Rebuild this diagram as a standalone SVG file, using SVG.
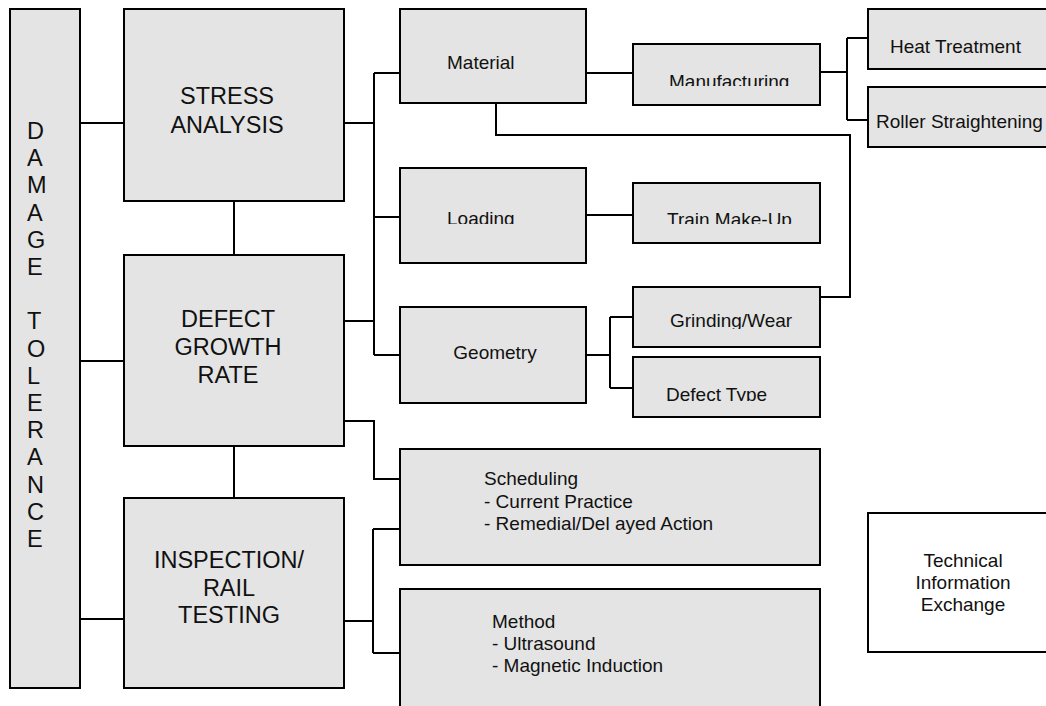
<svg xmlns="http://www.w3.org/2000/svg" width="1046" height="706" viewBox="0 0 1046 706">
  <style>
    .box { fill: #e4e4e4; stroke: #000; stroke-width: 2; }
    .wbox { fill: #fff; stroke: #000; stroke-width: 2; }
    .conn { fill: none; stroke: #000; stroke-width: 2; }
    .big { font-family: "Liberation Sans", Arial, sans-serif; font-size: 23.5px; fill: #111; }
    .sm { font-family: "Liberation Sans", Arial, sans-serif; font-size: 19px; fill: #111; }
    .c { text-anchor: middle; }
  </style>
  <defs>
    <clipPath id="clipManu"><rect x="633" y="44" width="187" height="42"/></clipPath>
    <clipPath id="clipLoad"><rect x="400" y="168" width="186" height="56"/></clipPath>
    <clipPath id="clipTrain"><rect x="633" y="183" width="187" height="41"/></clipPath>
    <clipPath id="clipRoller"><rect x="868" y="87" width="200" height="44"/></clipPath>
    <clipPath id="clipGrind"><rect x="633" y="287" width="187" height="42"/></clipPath>
    <clipPath id="clipDType"><rect x="633" y="357" width="187" height="44"/></clipPath>
  </defs>
  <rect width="1046" height="706" fill="#fff"/>

  <g id="connectors">
    <path class="conn" d="M80,123 H124"/>
    <path class="conn" d="M80,361 H124"/>
    <path class="conn" d="M80,619 H124"/>
    <path class="conn" d="M234,201 V255"/>
    <path class="conn" d="M234,446 V498"/>
    <path class="conn" d="M344,123 H374"/>
    <path class="conn" d="M374,73 V355"/>
    <path class="conn" d="M374,73 H400"/>
    <path class="conn" d="M374,217 H400"/>
    <path class="conn" d="M374,355 H400"/>
    <path class="conn" d="M344,321 H374"/>
    <path class="conn" d="M586,73 H633"/>
    <path class="conn" d="M820,72 H847"/>
    <path class="conn" d="M847,38 V120"/>
    <path class="conn" d="M847,38 H868"/>
    <path class="conn" d="M847,120 H868"/>
    <path class="conn" d="M496,103 V135 H850 V297 H820"/>
    <path class="conn" d="M586,215 H633"/>
    <path class="conn" d="M586,355 H610"/>
    <path class="conn" d="M610,317 V388"/>
    <path class="conn" d="M610,317 H633"/>
    <path class="conn" d="M610,388 H633"/>
    <path class="conn" d="M344,421 H374 V479 H400"/>
    <path class="conn" d="M344,621 H373"/>
    <path class="conn" d="M373,529 V653"/>
    <path class="conn" d="M373,529 H400"/>
    <path class="conn" d="M373,653 H400"/>
  </g>

  <g id="damage-tolerance">
    <rect class="box" x="10" y="9" width="70" height="679"/>
    <text class="big" x="27" y="139">D</text>
    <text class="big" x="27" y="166.2">A</text>
    <text class="big" x="27" y="193.4">M</text>
    <text class="big" x="27" y="220.6">A</text>
    <text class="big" x="27" y="247.8">G</text>
    <text class="big" x="27" y="275">E</text>
    <text class="big" x="27" y="329.4">T</text>
    <text class="big" x="27" y="356.6">O</text>
    <text class="big" x="27" y="383.8">L</text>
    <text class="big" x="27" y="411">E</text>
    <text class="big" x="27" y="438.2">R</text>
    <text class="big" x="27" y="465.4">A</text>
    <text class="big" x="27" y="492.6">N</text>
    <text class="big" x="27" y="519.8">C</text>
    <text class="big" x="27" y="547">E</text>
  </g>

  <g id="stress-analysis">
    <rect class="box" x="124" y="9" width="220" height="192"/>
    <text class="big c" x="227" y="104">STRESS</text>
    <text class="big c" x="227" y="133">ANALYSIS</text>
  </g>

  <g id="defect-growth-rate">
    <rect class="box" x="124" y="255" width="220" height="191"/>
    <text class="big c" x="228" y="327">DEFECT</text>
    <text class="big c" x="228" y="355">GROWTH</text>
    <text class="big c" x="228" y="383">RATE</text>
  </g>

  <g id="inspection">
    <rect class="box" x="124" y="498" width="220" height="190"/>
    <text class="big c" x="229" y="568">INSPECTION/</text>
    <text class="big c" x="229" y="596">RAIL</text>
    <text class="big c" x="229" y="623">TESTING</text>
  </g>

  <g id="material">
    <rect class="box" x="400" y="9" width="186" height="94"/>
    <text class="sm" x="447" y="69">Material</text>
  </g>

  <g id="manufacturing">
    <rect class="box" x="633" y="44" width="187" height="61"/>
    <text class="sm" x="669" y="88" clip-path="url(#clipManu)">Manufacturing</text>
  </g>

  <g id="heat-treatment">
    <rect class="box" x="868" y="9" width="200" height="60"/>
    <text class="sm" x="890" y="53">Heat Treatment</text>
  </g>

  <g id="roller-straightening">
    <rect class="box" x="868" y="87" width="200" height="60"/>
    <text class="sm" x="876" y="128">Roller Straightening</text>
  </g>

  <g id="loading">
    <rect class="box" x="400" y="168" width="186" height="95"/>
    <text class="sm" x="447" y="225" clip-path="url(#clipLoad)">Loading</text>
  </g>

  <g id="train-make-up">
    <rect class="box" x="633" y="183" width="187" height="60"/>
    <text class="sm" x="667" y="226" clip-path="url(#clipTrain)">Train Make-Up</text>
  </g>

  <g id="geometry">
    <rect class="box" x="400" y="307" width="186" height="96"/>
    <text class="sm c" x="495" y="359">Geometry</text>
  </g>

  <g id="grinding-wear">
    <rect class="box" x="633" y="287" width="187" height="60"/>
    <text class="sm" x="670" y="327" clip-path="url(#clipGrind)">Grinding/Wear</text>
  </g>

  <g id="defect-type">
    <rect class="box" x="633" y="357" width="187" height="60"/>
    <text class="sm" x="666" y="401" clip-path="url(#clipDType)">Defect Type</text>
  </g>

  <g id="scheduling">
    <rect class="box" x="400" y="449" width="420" height="116"/>
    <text class="sm" x="484" y="485">Scheduling</text>
    <text class="sm" x="484" y="508">- Current Practice</text>
    <text class="sm" x="484" y="530">- Remedial/Del ayed Action</text>
  </g>

  <g id="method">
    <rect class="box" x="400" y="589" width="420" height="130"/>
    <text class="sm" x="492" y="628">Method</text>
    <text class="sm" x="492" y="650">- Ultrasound</text>
    <text class="sm" x="492" y="672">- Magnetic Induction</text>
  </g>

  <g id="technical-information-exchange">
    <rect class="wbox" x="868" y="513" width="200" height="139"/>
    <text class="sm c" x="963" y="567">Technical</text>
    <text class="sm c" x="963" y="589">Information</text>
    <text class="sm c" x="963" y="611">Exchange</text>
  </g>
</svg>
